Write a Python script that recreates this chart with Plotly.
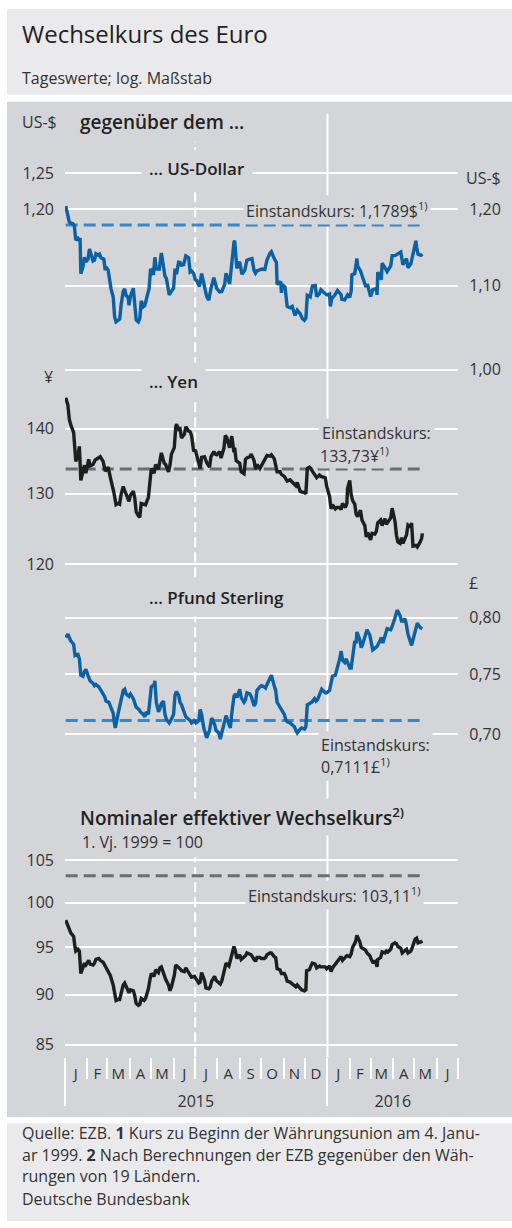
import math
from datetime import date

import plotly.graph_objects as go

# ---------------- data ----------------
usd_dates = [
    "2015-01-02", "2015-01-05", "2015-01-07", "2015-01-09", "2015-01-12", "2015-01-14", "2015-01-16",
    "2015-01-19", "2015-01-21", "2015-01-22", "2015-01-23", "2015-01-26", "2015-01-28", "2015-01-30",
    "2015-02-02", "2015-02-04", "2015-02-06", "2015-02-09", "2015-02-11", "2015-02-13", "2015-02-16",
    "2015-02-18", "2015-02-20", "2015-02-24", "2015-02-26", "2015-02-27", "2015-03-02", "2015-03-04",
    "2015-03-06", "2015-03-09", "2015-03-11", "2015-03-13", "2015-03-16", "2015-03-18", "2015-03-19",
    "2015-03-20", "2015-03-23", "2015-03-25", "2015-03-27", "2015-03-30", "2015-03-31", "2015-04-02",
    "2015-04-06", "2015-04-08", "2015-04-10", "2015-04-13", "2015-04-15", "2015-04-17", "2015-04-20",
    "2015-04-22", "2015-04-24", "2015-04-28", "2015-04-30", "2015-05-04", "2015-05-06", "2015-05-08",
    "2015-05-12", "2015-05-15", "2015-05-18", "2015-05-20", "2015-05-22", "2015-05-26", "2015-05-28",
    "2015-06-01", "2015-06-03", "2015-06-05", "2015-06-08", "2015-06-10", "2015-06-12", "2015-06-15",
    "2015-06-18", "2015-06-22", "2015-06-24", "2015-06-26", "2015-06-29", "2015-07-01", "2015-07-03",
    "2015-07-07", "2015-07-10", "2015-07-14", "2015-07-17", "2015-07-20", "2015-07-23", "2015-07-27",
    "2015-07-31", "2015-08-04", "2015-08-07", "2015-08-11", "2015-08-13", "2015-08-18", "2015-08-21",
    "2015-08-24", "2015-08-25", "2015-08-27", "2015-08-28", "2015-09-01", "2015-09-04", "2015-09-08",
    "2015-09-11", "2015-09-14", "2015-09-18", "2015-09-21", "2015-09-23", "2015-09-25", "2015-09-30",
    "2015-10-02", "2015-10-06", "2015-10-09", "2015-10-13", "2015-10-15", "2015-10-19", "2015-10-22",
    "2015-10-23", "2015-10-28", "2015-10-29", "2015-10-30", "2015-11-03", "2015-11-06", "2015-11-10",
    "2015-11-13", "2015-11-17", "2015-11-20", "2015-11-24", "2015-11-27", "2015-11-30", "2015-12-02",
    "2015-12-04", "2015-12-08", "2015-12-11", "2015-12-15", "2015-12-17", "2015-12-21", "2015-12-23",
    "2015-12-31", "2016-01-04", "2016-01-05", "2016-01-07", "2016-01-11", "2016-01-15", "2016-01-20",
    "2016-01-21", "2016-01-25", "2016-01-29", "2016-02-01", "2016-02-03", "2016-02-04", "2016-02-08",
    "2016-02-11", "2016-02-12", "2016-02-16", "2016-02-19", "2016-02-23", "2016-02-26", "2016-02-29",
    "2016-03-01", "2016-03-04", "2016-03-09", "2016-03-10", "2016-03-11", "2016-03-16", "2016-03-17",
    "2016-03-22", "2016-03-24", "2016-03-29", "2016-03-31", "2016-04-04", "2016-04-07", "2016-04-12",
    "2016-04-15", "2016-04-20", "2016-04-22", "2016-04-26", "2016-04-29", "2016-05-03", "2016-05-04",
    "2016-05-06", "2016-05-10", "2016-05-12",
]
usd_values = [
    1.2043, 1.1915, 1.1830, 1.1813, 1.1804, 1.1775, 1.1588, 1.1611, 1.1583, 1.1615, 1.1154, 1.1240,
    1.1363, 1.1305, 1.1337, 1.1471, 1.1413, 1.1316, 1.1326, 1.1409, 1.1390, 1.1403, 1.1357, 1.1339,
    1.1197, 1.1240, 1.1199, 1.1075, 1.0963, 1.0863, 1.0620, 1.0559, 1.0579, 1.0592, 1.0665, 1.0764,
    1.0932, 1.0963, 1.0883, 1.0848, 1.0759, 1.0872, 1.0970, 1.0815, 1.0582, 1.0558, 1.0598, 1.0813,
    1.0742, 1.0757, 1.0845, 1.0971, 1.1215, 1.1139, 1.1363, 1.1214, 1.1210, 1.1419, 1.1243, 1.1122,
    1.1093, 1.0887, 1.0920, 1.0970, 1.1217, 1.1146, 1.1299, 1.1296, 1.1260, 1.1268, 1.1381, 1.1358,
    1.1175, 1.1188, 1.1154, 1.1083, 1.1069, 1.0993, 1.1155, 1.1003, 1.0868, 1.0823, 1.0967, 1.1102,
    1.0967, 1.0925, 1.0930, 1.1017, 1.1158, 1.1024, 1.1317, 1.1562, 1.1579, 1.1284, 1.1221, 1.1305,
    1.1146, 1.1197, 1.1326, 1.1336, 1.1345, 1.1193, 1.1159, 1.1188, 1.1203, 1.1213, 1.1208, 1.1331,
    1.1414, 1.1435, 1.1347, 1.1298, 1.1017, 1.1054, 1.0914, 1.1017, 1.0984, 1.0745, 1.0728, 1.0746,
    1.0636, 1.0700, 1.0658, 1.0601, 1.0579, 1.0603, 1.0882, 1.0863, 1.1000, 1.1006, 1.0868, 1.0903,
    1.0951, 1.0887, 1.0898, 1.0746, 1.0843, 1.0882, 1.0942, 1.0890, 1.0833, 1.0826, 1.0888, 1.0856,
    1.0934, 1.1138, 1.1155, 1.1347, 1.1250, 1.1188, 1.1106, 1.1001, 1.1006, 1.0888, 1.0868, 1.0951,
    1.0969, 1.0888, 1.1173, 1.1077, 1.1289, 1.1214, 1.1180, 1.1252, 1.1385, 1.1385, 1.1401, 1.1432,
    1.1268, 1.1346, 1.1229, 1.1280, 1.1403, 1.1579, 1.1493, 1.1402, 1.1389, 1.1406,
]

jpy_dates = [
    "2015-01-02", "2015-01-05", "2015-01-07", "2015-01-09", "2015-01-13", "2015-01-15", "2015-01-16",
    "2015-01-19", "2015-01-21", "2015-01-23", "2015-01-26", "2015-01-28", "2015-01-30", "2015-02-03",
    "2015-02-05", "2015-02-09", "2015-02-12", "2015-02-16", "2015-02-19", "2015-02-23", "2015-02-26",
    "2015-03-02", "2015-03-04", "2015-03-06", "2015-03-10", "2015-03-12", "2015-03-13", "2015-03-16",
    "2015-03-18", "2015-03-20", "2015-03-23", "2015-03-25", "2015-03-27", "2015-03-31", "2015-04-02",
    "2015-04-06", "2015-04-08", "2015-04-10", "2015-04-13", "2015-04-15", "2015-04-17", "2015-04-20",
    "2015-04-23", "2015-04-27", "2015-04-29", "2015-05-01", "2015-05-05", "2015-05-07", "2015-05-11",
    "2015-05-13", "2015-05-15", "2015-05-19", "2015-05-21", "2015-05-25", "2015-05-27", "2015-05-29",
    "2015-06-02", "2015-06-04", "2015-06-05", "2015-06-08", "2015-06-10", "2015-06-12", "2015-06-16",
    "2015-06-18", "2015-06-22", "2015-06-24", "2015-06-26", "2015-06-29", "2015-07-01", "2015-07-03",
    "2015-07-07", "2015-07-08", "2015-07-10", "2015-07-14", "2015-07-17", "2015-07-21", "2015-07-23",
    "2015-07-27", "2015-07-29", "2015-07-31", "2015-08-04", "2015-08-06", "2015-08-10", "2015-08-12",
    "2015-08-14", "2015-08-18", "2015-08-21", "2015-08-24", "2015-08-25", "2015-08-27", "2015-09-01",
    "2015-09-03", "2015-09-07", "2015-09-09", "2015-09-11", "2015-09-15", "2015-09-17", "2015-09-21",
    "2015-09-23", "2015-09-25", "2015-09-29", "2015-10-01", "2015-10-05", "2015-10-07", "2015-10-09",
    "2015-10-13", "2015-10-15", "2015-10-19", "2015-10-21", "2015-10-23", "2015-10-27", "2015-10-29",
    "2015-11-02", "2015-11-04", "2015-11-06", "2015-11-10", "2015-11-12", "2015-11-16", "2015-11-18",
    "2015-11-20", "2015-11-24", "2015-11-26", "2015-11-30", "2015-12-02", "2015-12-04", "2015-12-07",
    "2015-12-09", "2015-12-11", "2015-12-15", "2015-12-17", "2015-12-21", "2015-12-23", "2015-12-29",
    "2015-12-31", "2016-01-04", "2016-01-06", "2016-01-08", "2016-01-12", "2016-01-14", "2016-01-18",
    "2016-01-20", "2016-01-22", "2016-01-26", "2016-01-28", "2016-01-29", "2016-02-01", "2016-02-03",
    "2016-02-05", "2016-02-08", "2016-02-10", "2016-02-12", "2016-02-16", "2016-02-18", "2016-02-22",
    "2016-02-24", "2016-02-26", "2016-03-01", "2016-03-03", "2016-03-07", "2016-03-09", "2016-03-11",
    "2016-03-15", "2016-03-17", "2016-03-21", "2016-03-23", "2016-03-29", "2016-03-31", "2016-04-04",
    "2016-04-06", "2016-04-08", "2016-04-11", "2016-04-13", "2016-04-15", "2016-04-18", "2016-04-20",
    "2016-04-22", "2016-04-26", "2016-04-27", "2016-04-29", "2016-05-03", "2016-05-05", "2016-05-09",
    "2016-05-11", "2016-05-12",
]
jpy_values = [
    145.0, 143.8, 141.5, 140.6, 139.4, 136.8, 134.9, 135.8, 137.2, 132.0, 133.2, 134.3, 133.1, 135.2,
    134.2, 134.4, 135.1, 135.4, 135.6, 134.9, 133.4, 134.0, 132.6, 132.0, 130.2, 128.6, 128.4, 128.6,
    128.5, 129.9, 131.1, 130.5, 130.0, 128.9, 129.8, 130.4, 129.4, 127.4, 126.8, 126.6, 128.6, 128.5,
    128.4, 129.5, 131.6, 133.8, 133.1, 134.4, 133.7, 135.0, 136.2, 134.6, 134.4, 133.3, 134.3, 136.0,
    137.0, 140.2, 140.7, 139.9, 140.0, 138.5, 139.1, 140.3, 139.6, 139.5, 138.9, 136.4, 136.7, 135.9,
    134.0, 133.8, 135.5, 135.6, 134.7, 134.0, 135.6, 136.4, 136.0, 135.9, 136.4, 135.4, 136.9, 138.9,
    138.6, 137.0, 138.8, 136.3, 137.0, 135.0, 134.6, 133.3, 133.0, 135.2, 135.4, 135.6, 136.0, 135.0,
    133.7, 134.4, 133.8, 134.2, 134.9, 135.2, 135.8, 135.7, 135.9, 135.3, 134.3, 133.3, 133.3, 132.9,
    132.6, 132.3, 131.9, 132.1, 131.9, 131.5, 131.2, 131.7, 130.4, 130.3, 130.2, 130.0, 133.8, 134.0,
    133.8, 133.4, 132.6, 132.4, 132.8, 132.6, 132.4, 131.1, 129.6, 127.8, 128.4, 127.8, 128.0, 128.0,
    127.7, 128.6, 128.0, 128.6, 130.8, 132.0, 129.9, 129.0, 128.5, 127.0, 126.7, 127.6, 126.2, 125.4,
    123.8, 124.4, 123.4, 124.3, 124.2, 124.6, 125.8, 126.2, 125.4, 126.4, 125.6, 126.5, 127.9, 126.0,
    124.0, 123.1, 122.9, 123.7, 122.9, 123.6, 124.1, 125.5, 125.2, 125.8, 122.5, 122.6, 122.4, 123.1,
    123.6, 124.3,
]

gbp_dates = [
    "2015-01-02", "2015-01-05", "2015-01-07", "2015-01-09", "2015-01-13", "2015-01-15", "2015-01-19",
    "2015-01-21", "2015-01-23", "2015-01-26", "2015-01-28", "2015-01-30", "2015-02-03", "2015-02-05",
    "2015-02-09", "2015-02-11", "2015-02-13", "2015-02-17", "2015-02-19", "2015-02-23", "2015-02-25",
    "2015-02-27", "2015-03-03", "2015-03-05", "2015-03-09", "2015-03-11", "2015-03-12", "2015-03-16",
    "2015-03-18", "2015-03-20", "2015-03-23", "2015-03-25", "2015-03-27", "2015-03-31", "2015-04-02",
    "2015-04-06", "2015-04-08", "2015-04-10", "2015-04-14", "2015-04-16", "2015-04-20", "2015-04-22",
    "2015-04-24", "2015-04-27", "2015-04-30", "2015-05-01", "2015-05-05", "2015-05-06", "2015-05-08",
    "2015-05-11", "2015-05-13", "2015-05-15", "2015-05-18", "2015-05-20", "2015-05-22", "2015-05-26",
    "2015-05-28", "2015-06-01", "2015-06-03", "2015-06-05", "2015-06-08", "2015-06-10", "2015-06-12",
    "2015-06-16", "2015-06-18", "2015-06-22", "2015-06-24", "2015-06-26", "2015-06-30", "2015-07-02",
    "2015-07-06", "2015-07-08", "2015-07-10", "2015-07-13", "2015-07-15", "2015-07-17", "2015-07-21",
    "2015-07-23", "2015-07-24", "2015-07-28", "2015-07-30", "2015-08-03", "2015-08-05", "2015-08-07",
    "2015-08-11", "2015-08-13", "2015-08-17", "2015-08-19", "2015-08-21", "2015-08-24", "2015-08-26",
    "2015-08-28", "2015-09-01", "2015-09-03", "2015-09-07", "2015-09-09", "2015-09-11", "2015-09-15",
    "2015-09-17", "2015-09-21", "2015-09-23", "2015-09-25", "2015-09-29", "2015-10-01", "2015-10-05",
    "2015-10-07", "2015-10-09", "2015-10-13", "2015-10-15", "2015-10-19", "2015-10-21", "2015-10-23",
    "2015-10-27", "2015-10-29", "2015-11-02", "2015-11-04", "2015-11-06", "2015-11-10", "2015-11-12",
    "2015-11-16", "2015-11-18", "2015-11-20", "2015-11-24", "2015-11-26", "2015-11-30", "2015-12-02",
    "2015-12-04", "2015-12-08", "2015-12-10", "2015-12-14", "2015-12-16", "2015-12-18", "2015-12-22",
    "2015-12-24", "2015-12-29", "2015-12-31", "2016-01-04", "2016-01-06", "2016-01-08", "2016-01-12",
    "2016-01-14", "2016-01-18", "2016-01-20", "2016-01-22", "2016-01-25", "2016-01-27", "2016-01-29",
    "2016-02-01", "2016-02-03", "2016-02-05", "2016-02-08", "2016-02-10", "2016-02-11", "2016-02-15",
    "2016-02-17", "2016-02-19", "2016-02-23", "2016-02-25", "2016-02-29", "2016-03-02", "2016-03-04",
    "2016-03-08", "2016-03-10", "2016-03-14", "2016-03-16", "2016-03-18", "2016-03-22", "2016-03-24",
    "2016-03-29", "2016-03-31", "2016-04-04", "2016-04-06", "2016-04-07", "2016-04-11", "2016-04-13",
    "2016-04-15", "2016-04-18", "2016-04-20", "2016-04-22", "2016-04-25", "2016-04-27", "2016-04-29",
    "2016-05-03", "2016-05-05", "2016-05-09", "2016-05-11", "2016-05-12",
]
gbp_values = [
    0.782, 0.785, 0.782, 0.779, 0.776, 0.766, 0.767, 0.763, 0.749, 0.748, 0.752, 0.754, 0.747, 0.744,
    0.742, 0.740, 0.741, 0.739, 0.737, 0.733, 0.731, 0.727, 0.726, 0.723, 0.717, 0.708, 0.705, 0.717,
    0.722, 0.730, 0.736, 0.737, 0.733, 0.731, 0.733, 0.729, 0.724, 0.722, 0.720, 0.718, 0.716, 0.714,
    0.718, 0.716, 0.733, 0.739, 0.741, 0.744, 0.726, 0.718, 0.721, 0.725, 0.727, 0.716, 0.712, 0.709,
    0.711, 0.716, 0.732, 0.735, 0.732, 0.726, 0.724, 0.717, 0.714, 0.712, 0.711, 0.709, 0.711, 0.709,
    0.711, 0.720, 0.716, 0.705, 0.700, 0.697, 0.703, 0.710, 0.713, 0.708, 0.703, 0.701, 0.696, 0.701,
    0.710, 0.715, 0.708, 0.705, 0.717, 0.731, 0.733, 0.730, 0.737, 0.730, 0.726, 0.728, 0.734, 0.733,
    0.731, 0.723, 0.725, 0.736, 0.739, 0.740, 0.739, 0.738, 0.741, 0.746, 0.749, 0.740, 0.736, 0.726,
    0.722, 0.720, 0.716, 0.712, 0.710, 0.709, 0.708, 0.706, 0.703, 0.701, 0.704, 0.705, 0.704, 0.706,
    0.724, 0.725, 0.726, 0.729, 0.727, 0.728, 0.735, 0.737, 0.734, 0.734, 0.736, 0.743, 0.748, 0.749,
    0.753, 0.763, 0.770, 0.762, 0.760, 0.763, 0.760, 0.755, 0.755, 0.767, 0.779, 0.777, 0.787, 0.780,
    0.773, 0.776, 0.785, 0.789, 0.784, 0.775, 0.771, 0.773, 0.774, 0.779, 0.782, 0.777, 0.785, 0.790,
    0.789, 0.792, 0.800, 0.805, 0.807, 0.802, 0.797, 0.797, 0.799, 0.793, 0.785, 0.779, 0.775, 0.780,
    0.789, 0.795, 0.791, 0.790, 0.790,
]

neer_dates = [
    "2015-01-02", "2015-01-05", "2015-01-07", "2015-01-09", "2015-01-13", "2015-01-15", "2015-01-16",
    "2015-01-19", "2015-01-21", "2015-01-23", "2015-01-26", "2015-01-28", "2015-01-30", "2015-02-03",
    "2015-02-05", "2015-02-09", "2015-02-11", "2015-02-13", "2015-02-17", "2015-02-19", "2015-02-23",
    "2015-02-25", "2015-02-27", "2015-03-03", "2015-03-05", "2015-03-09", "2015-03-11", "2015-03-13",
    "2015-03-16", "2015-03-18", "2015-03-20", "2015-03-23", "2015-03-25", "2015-03-27", "2015-03-31",
    "2015-04-02", "2015-04-06", "2015-04-08", "2015-04-10", "2015-04-13", "2015-04-15", "2015-04-17",
    "2015-04-21", "2015-04-23", "2015-04-27", "2015-04-29", "2015-05-01", "2015-05-05", "2015-05-07",
    "2015-05-11", "2015-05-13", "2015-05-15", "2015-05-19", "2015-05-21", "2015-05-25", "2015-05-27",
    "2015-05-29", "2015-06-02", "2015-06-04", "2015-06-08", "2015-06-10", "2015-06-12", "2015-06-16",
    "2015-06-18", "2015-06-22", "2015-06-24", "2015-06-26", "2015-06-30", "2015-07-02", "2015-07-06",
    "2015-07-08", "2015-07-10", "2015-07-14", "2015-07-16", "2015-07-20", "2015-07-22", "2015-07-24",
    "2015-07-28", "2015-07-30", "2015-08-03", "2015-08-05", "2015-08-07", "2015-08-11", "2015-08-13",
    "2015-08-17", "2015-08-19", "2015-08-21", "2015-08-24", "2015-08-26", "2015-08-28", "2015-09-01",
    "2015-09-03", "2015-09-07", "2015-09-09", "2015-09-11", "2015-09-15", "2015-09-17", "2015-09-21",
    "2015-09-23", "2015-09-25", "2015-09-29", "2015-10-01", "2015-10-05", "2015-10-07", "2015-10-09",
    "2015-10-13", "2015-10-15", "2015-10-19", "2015-10-21", "2015-10-23", "2015-10-27", "2015-10-29",
    "2015-11-02", "2015-11-04", "2015-11-06", "2015-11-10", "2015-11-12", "2015-11-16", "2015-11-18",
    "2015-11-20", "2015-11-24", "2015-11-26", "2015-11-30", "2015-12-02", "2015-12-03", "2015-12-07",
    "2015-12-09", "2015-12-11", "2015-12-15", "2015-12-17", "2015-12-21", "2015-12-23", "2015-12-29",
    "2015-12-31", "2016-01-04", "2016-01-06", "2016-01-08", "2016-01-12", "2016-01-14", "2016-01-18",
    "2016-01-20", "2016-01-22", "2016-01-26", "2016-01-28", "2016-02-01", "2016-02-03", "2016-02-05",
    "2016-02-09", "2016-02-11", "2016-02-15", "2016-02-17", "2016-02-19", "2016-02-23", "2016-02-25",
    "2016-02-29", "2016-03-02", "2016-03-04", "2016-03-08", "2016-03-10", "2016-03-11", "2016-03-15",
    "2016-03-17", "2016-03-21", "2016-03-23", "2016-03-25", "2016-03-29", "2016-03-31", "2016-04-04",
    "2016-04-06", "2016-04-08", "2016-04-12", "2016-04-14", "2016-04-18", "2016-04-20", "2016-04-22",
    "2016-04-26", "2016-04-28", "2016-05-02", "2016-05-04", "2016-05-06", "2016-05-10", "2016-05-12",
]
neer_values = [
    98.0, 97.5, 97.0, 96.6, 96.2, 95.0, 94.6, 94.8, 94.6, 92.2, 92.8, 93.3, 93.1, 93.6, 93.2, 93.1,
    93.3, 93.7, 93.8, 93.6, 93.4, 93.1, 92.8, 92.3, 92.0, 91.0, 89.9, 89.4, 89.5, 89.5, 90.1, 91.0,
    91.2, 90.8, 90.2, 90.5, 90.4, 89.9, 89.1, 88.9, 89.0, 89.6, 89.4, 89.6, 90.6, 91.5, 92.2, 91.9,
    92.6, 92.3, 92.8, 92.9, 91.9, 91.6, 91.0, 90.4, 90.8, 92.0, 93.1, 92.9, 92.7, 92.5, 92.4, 92.8,
    92.3, 92.0, 91.8, 91.9, 91.6, 91.2, 91.3, 92.3, 91.5, 90.7, 90.6, 90.8, 91.4, 91.9, 91.5, 91.3,
    91.1, 91.4, 92.5, 93.3, 93.0, 93.5, 94.2, 95.1, 94.6, 93.8, 94.2, 93.7, 94.0, 94.1, 94.4, 94.3,
    94.2, 93.7, 93.5, 93.9, 93.9, 93.8, 93.8, 93.9, 94.2, 94.4, 94.4, 94.0, 93.9, 92.7, 92.6, 92.2,
    92.2, 91.9, 91.4, 91.3, 91.2, 91.0, 90.8, 91.0, 90.7, 90.5, 90.4, 90.5, 92.5, 92.6, 93.0, 93.3,
    93.2, 92.8, 93.0, 92.9, 92.9, 92.7, 93.0, 92.4, 92.8, 93.2, 93.5, 93.8, 94.0, 93.6, 93.9, 94.1,
    94.0, 94.3, 95.0, 95.6, 96.3, 95.6, 95.0, 94.9, 94.7, 94.4, 94.1, 93.7, 93.4, 93.5, 92.9, 93.7,
    93.9, 94.5, 94.4, 94.6, 94.5, 94.8, 95.3, 95.5, 95.4, 95.1, 94.9, 94.4, 94.6, 94.8, 94.4, 94.6,
    95.0, 95.9, 96.0, 95.5, 95.6, 95.7,
]

usd_par = 1.1789
jpy_par = 133.73
gbp_par = 0.7111
neer_par = 103.11

usd_ticks = [1.25, 1.20, 1.10, 1.00]
jpy_ticks = [140, 130, 120]
gbp_ticks = [0.80, 0.75, 0.70]
neer_ticks = [105, 100, 95, 90, 85]

month_letters = ["J", "F", "M", "A", "M", "J", "J", "A", "S", "O", "N", "D",
                 "J", "F", "M", "A", "M", "J"]
year_labels = ["2015", "2016"]

# ---------------- layout helpers ----------------
W, H = 512, 1228
FONT = "Open Sans"
TEXT = "#333333"
DARK = "#222222"
PANEL = "#d4d5d8"
LIGHT = "#eaeaec"
BLUE = "#0a61a3"
BLUE_PAR = "#3b86c5"
BLACK = "#1e1e1e"
GREY_PAR = "#6c6d70"

X_START, X_END = date(2015, 1, 1), date(2016, 7, 1)
X_DOM = [65 / W, 458.3 / W]
X_RANGE = [X_START.isoformat(), X_END.isoformat()]


def px(x):
    return x / W


def py(y):
    return 1 - y / H


def x_paper(d):
    span = (X_END - X_START).days
    return X_DOM[0] + (d - X_START).days / span * (X_DOM[1] - X_DOM[0])


def log_axis(va, ya, vb, yb, top, bottom):
    k = (yb - ya) / (math.log10(va) - math.log10(vb))
    lo = math.log10(va) - (bottom - ya) / k
    hi = math.log10(va) + (ya - top) / k
    return [lo, hi], [py(bottom), py(top)]


def comma(v, nd):
    return f"{v:.{nd}f}".replace(".", ",")


month_starts = [date(2015 + (m // 12), m % 12 + 1, 1) for m in range(19)]
month_mids = [a + (b - a) / 2 for a, b in zip(month_starts[:-1], month_starts[1:])]
year_mids = [date(2015, 7, 2), date(2016, 4, 1)]

r1, d1 = log_axis(1.25, 171.7, 1.00, 368.3, 140, 380)
r2, d2 = log_axis(140, 427.3, 120, 563.3, 385, 575)
r3, d3 = log_axis(0.80, 616.7, 0.70, 733.3, 600, 745)
r4, d4 = log_axis(105, 859.3, 85, 1044.3, 850, 1057)

fig = go.Figure()


def add_series(dates, values, par, color, par_color, yref):
    fig.add_trace(go.Scatter(
        x=[dates[0], dates[-1]], y=[par, par], mode="lines", yaxis=yref,
        line=dict(color=par_color, width=3, dash="12px,6px"), hoverinfo="skip"))
    fig.add_trace(go.Scatter(
        x=dates, y=values, mode="lines", yaxis=yref,
        line=dict(color=color, width=3.4), hoverinfo="skip"))


add_series(usd_dates, usd_values, usd_par, BLUE, BLUE_PAR, "y")
add_series(jpy_dates, jpy_values, jpy_par, BLACK, GREY_PAR, "y2")
add_series(gbp_dates, gbp_values, gbp_par, BLUE, BLUE_PAR, "y3")
add_series(neer_dates, neer_values, neer_par, BLACK, GREY_PAR, "y4")

# empty traces so that the label-only axes get drawn
for xa, ya in (("x2", "y4"), ("x3", "y4"), ("x", "y5")):
    fig.add_trace(go.Scatter(x=[None], y=[None], xaxis=xa, yaxis=ya, mode="lines",
                             hoverinfo="skip"))

tick_font = dict(family=FONT, size=16, color=TEXT)
yax = dict(type="log", showgrid=True, gridcolor="white", gridwidth=2, zeroline=False,
           showline=False, ticks="", tickfont=tick_font, anchor="x")
xlab = dict(type="date", range=X_RANGE, overlaying="x", anchor="y4", showgrid=False,
            zeroline=False, showline=False, ticks="")

fig.update_layout(
    width=W, height=H,
    margin=dict(l=0, r=0, t=0, b=0),
    paper_bgcolor="white",
    plot_bgcolor="rgba(0,0,0,0)",
    showlegend=False,
    hovermode=False,
    xaxis=dict(
        type="date", range=X_RANGE, domain=X_DOM,
        anchor="y4", showgrid=False, zeroline=False, showline=False,
        tickvals=[date(2015, 1, 1).isoformat(), date(2016, 1, 1).isoformat()],
        ticks="outside", ticklen=48, tickwidth=2, tickcolor="white", showticklabels=False,
        minor=dict(tickvals=[d.isoformat() for d in month_starts], ticks="outside",
                   ticklen=21, tickwidth=2, tickcolor="white", showgrid=False),
    ),
    xaxis2=dict(xlab, tickvals=[d.isoformat() for d in month_mids], ticktext=month_letters,
                tickfont=dict(family=FONT, size=15, color=TEXT), ticklabelstandoff=6),
    xaxis3=dict(xlab, tickvals=[d.isoformat() for d in year_mids], ticktext=year_labels,
                tickfont=dict(family=FONT, size=16, color=TEXT), ticklabelstandoff=33),
    yaxis=dict(yax, range=r1, domain=d1, tickvals=usd_ticks,
               ticktext=[comma(v, 2) if v >= 1.2 else "" for v in usd_ticks],
               ticklabelstandoff=10),
    yaxis5=dict(yax, range=r1, overlaying="y", side="right", showgrid=False,
                tickvals=usd_ticks[1:], ticktext=[comma(v, 2) for v in usd_ticks[1:]],
                ticklabelstandoff=10),
    yaxis2=dict(yax, range=r2, domain=d2, tickvals=jpy_ticks,
                ticktext=[str(v) for v in jpy_ticks], ticklabelstandoff=10),
    yaxis3=dict(yax, range=r3, domain=d3, side="right", tickvals=gbp_ticks,
                ticktext=[comma(v, 2) for v in gbp_ticks], ticklabelstandoff=10),
    yaxis4=dict(yax, range=r4, domain=d4, tickvals=neer_ticks,
                ticktext=[str(v) for v in neer_ticks], ticklabelstandoff=10),
)

# backgrounds and the two vertical guide lines
shapes = [
    dict(type="rect", xref="paper", yref="paper", x0=px(7), x1=1, y0=py(93), y1=py(7),
         fillcolor=LIGHT, line_width=0, layer="below"),
    dict(type="rect", xref="paper", yref="paper", x0=px(7), x1=1, y0=py(1117), y1=py(100),
         fillcolor=PANEL, line_width=0, layer="below"),
    dict(type="rect", xref="paper", yref="paper", x0=px(7), x1=1, y0=py(1221), y1=py(1123),
         fillcolor=LIGHT, line_width=0, layer="below"),
    dict(type="line", xref="paper", yref="paper", x0=x_paper(date(2016, 1, 1)),
         x1=x_paper(date(2016, 1, 1)), y0=py(1057), y1=py(112),
         line=dict(color="white", width=2), layer="below"),
    dict(type="line", xref="paper", yref="paper", x0=x_paper(date(2015, 7, 1)),
         x1=x_paper(date(2015, 7, 1)), y0=py(1057), y1=py(140),
         line=dict(color="white", width=2, dash="10px,5px"), layer="below"),
]
fig.update_layout(shapes=shapes)


def label(text, x, y, xanchor="left", size=16, weight=400, bg=None, pad=0, color=TEXT):
    fig.add_annotation(
        text=text, x=px(x), y=py(y), xref="paper", yref="paper",
        xanchor=xanchor, yanchor="middle", showarrow=False, align="left",
        font=dict(family=FONT, size=size, color=color, weight=weight),
        bgcolor=bg, borderpad=pad)


label("Wechselkurs des Euro", 21, 32, size=24, color=DARK)
label("Tageswerte; log. Maßstab", 21, 76, size=16)
label("US-$", 21, 120)
label("gegenüber dem …", 79, 120, size=19, weight=600, color=DARK)
label("… US-Dollar", 141, 167, size=17, weight=600, bg=PANEL, pad=7, color=DARK)
label("US-$", 465, 176)
label("Einstandskurs: 1,1789$<sup>1)</sup>", 431, 208, xanchor="right", bg=PANEL, pad=2)
label("¥", 54, 376, xanchor="right")
label("… Yen", 141, 380, size=17, weight=600, bg=PANEL, pad=7, color=DARK)
label("Einstandskurs:", 318, 432, bg=PANEL, pad=3)
label("133,73¥<sup>1)</sup>", 318, 454, bg=PANEL, pad=1)
label("… Pfund Sterling", 141, 596, size=17, weight=600, bg=PANEL, pad=7, color=DARK)
label("£", 468, 582)
label("Einstandskurs:", 318, 744, bg=PANEL, pad=2)
label("0,7111£<sup>1)</sup>", 318, 765, bg=PANEL, pad=2)
label("Nominaler effektiver Wechselkurs<sup>2)</sup>", 75, 816, size=19, weight=600,
      bg=PANEL, pad=4, color=DARK)
label("1. Vj. 1999 = 100", 77, 841, bg=PANEL, pad=4)
label("Einstandskurs: 103,11<sup>1)</sup>", 424, 894, xanchor="right", bg=PANEL, pad=2)

label("Quelle: EZB. <b>1</b> Kurs zu Beginn der Währungsunion am 4. Janu-", 21, 1133)
label("ar 1999. <b>2</b> Nach Berechnungen der EZB gegenüber den Wäh-", 21, 1155)
label("rungen von 19 Ländern.", 21, 1176)
label("Deutsche Bundesbank", 21, 1199)

fig.write_html("out.html", config={"displayModeBar": False},
               post_script="document.body.style.margin='0px';")
